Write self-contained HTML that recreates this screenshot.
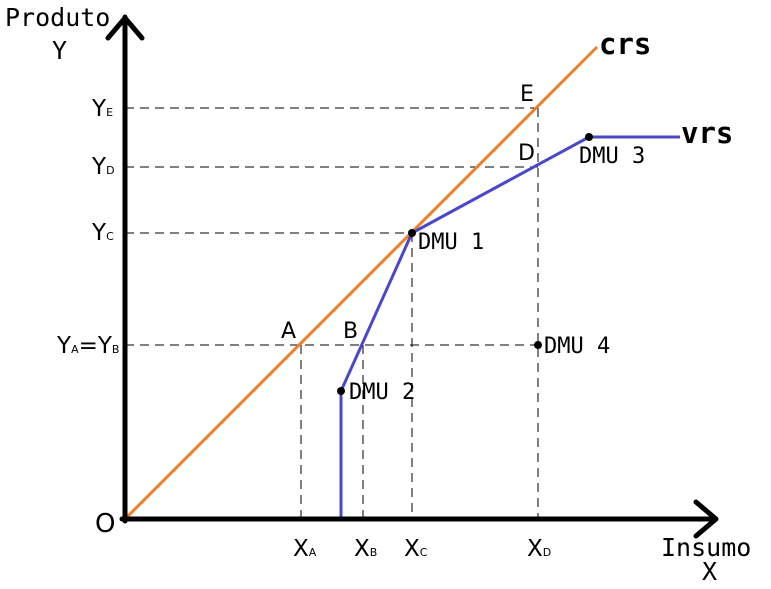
<!DOCTYPE html>
<html><head><meta charset="utf-8"><style>
body{margin:0;background:#fff;}
svg{display:block;font-family:"DejaVu Sans Mono","Liberation Mono",monospace;}
</style></head><body>
<svg id="c" width="771" height="589" viewBox="0 0 771 589">
<g id="g"></g>
<g font-family="DejaVu Sans, sans-serif" font-size="23">
<text x="5" y="26" font-family="DejaVu Sans Mono, monospace" font-size="25">Produto</text>
<text x="52" y="59" font-family="DejaVu Sans Mono, monospace" font-size="25">Y</text>
<text x="661" y="556" font-family="DejaVu Sans Mono, monospace" font-size="25">Insumo</text>
<text x="702" y="580" font-family="DejaVu Sans Mono, monospace" font-size="25">X</text>
<text x="95" y="532" font-size="26">O</text>
<text x="92" y="116">Y<tspan font-size="11">E</tspan></text>
<text x="92" y="174">Y<tspan font-size="11">D</tspan></text>
<text x="92" y="240">Y<tspan font-size="11">C</tspan></text>
<text x="57" y="353">Y<tspan font-size="11">A</tspan>=Y<tspan font-size="11">B</tspan></text>
<text x="293" y="556">X<tspan font-size="11">A</tspan></text>
<text x="354" y="556">X<tspan font-size="11">B</tspan></text>
<text x="404" y="556">X<tspan font-size="11">C</tspan></text>
<text x="527" y="556">X<tspan font-size="11">D</tspan></text>
<text x="599" y="54" font-family="DejaVu Sans Mono, monospace" font-size="29" font-weight="bold">crs</text>
<text x="681" y="143" font-family="DejaVu Sans Mono, monospace" font-size="29" font-weight="bold">vrs</text>
</g>
</svg>
<script>
// data units (origin at 0,0)
const crsLine = [[0,0],[472,472]];
const vrsX = [216,216,287,464,555];
const vrsY = [0,128,286,382,382];
const dmuNames = ["DMU 1","DMU 2","DMU 3","DMU 4"];
const dmuX = [287,216,464,413];
const dmuY = [286,128,382,174];
const refNames = ["A","B","D","E"];
const refX = [176,238,413,413];
const refY = [174,174,352,411];

const ox=125, oy=519;
const sx=v=>ox+v, sy=v=>oy-v;
const NS="http://www.w3.org/2000/svg";
const g=document.getElementById('g');
function el(t,a,txt){const e=document.createElementNS(NS,t);for(const k in a)e.setAttribute(k,a[k]);if(txt!==undefined)e.textContent=txt;g.appendChild(e);return e;}
function dash(x1,y1,x2,y2,name){const e=el('line',{x1,y1,x2,y2,stroke:'#000','stroke-width':1,'stroke-dasharray':'9,6'});

}
dash(sx(0),sy(refY[3]),sx(refX[3]),sy(refY[3]),'guide-ye');
dash(sx(0),sy(refY[2]),sx(refX[2]),sy(refY[2]),'guide-yd');
dash(sx(0),sy(dmuY[0]),sx(dmuX[0]),sy(dmuY[0]),'guide-yc');
dash(sx(0),sy(refY[0]),sx(dmuX[3]),sy(refY[0]),'guide-ya');
dash(sx(refX[0]),sy(refY[0]),sx(refX[0]),sy(0),'guide-xa');
dash(sx(refX[1]),sy(refY[1]),sx(refX[1]),sy(0),'guide-xb');
dash(sx(dmuX[0]),sy(dmuY[0]),sx(dmuX[0]),sy(0),'guide-xc');
dash(sx(refX[3]),sy(refY[3]),sx(refX[3]),sy(0),'guide-xd');
let e=el('line',{x1:sx(crsLine[0][0]),y1:sy(crsLine[0][1]),x2:sx(crsLine[1][0]),y2:sy(crsLine[1][1]),stroke:'#f07f2a','stroke-width':3});


e=el('polyline',{points:vrsX.map((x,i)=>sx(x)+','+sy(vrsY[i])).join(' '),fill:'none',stroke:'#4848c8','stroke-width':3});


e=el('path',{d:`M${ox},${oy+2} V17 M${ox-3},${oy} H716 M108,38 L${ox},18 L142,38 M696,502 L716,${oy} L696,536`,stroke:'#000','stroke-width':5,fill:'none','stroke-linecap':'round','stroke-linejoin':'round'});


const lblOff=[[6,16],[8,8],[-10,26],[6,8]];
dmuNames.forEach((n,i)=>{
 const c=el('circle',{cx:sx(dmuX[i]),cy:sy(dmuY[i]),r:4,fill:'#000'});
 
 
 const t=el('text',{x:sx(dmuX[i])+lblOff[i][0],y:sy(dmuY[i])+lblOff[i][1],'font-size':22},n);
 
 
});
refNames.forEach((n,i)=>{
 const t=el('text',{x:sx(refX[i])-20,y:sy(refY[i])-7,'font-size':22,'font-family':'DejaVu Sans, sans-serif'},n);
 if(n==='E'){t.setAttribute('x',sx(refX[i])-18);}
 
 
});
</script>
</body></html>
